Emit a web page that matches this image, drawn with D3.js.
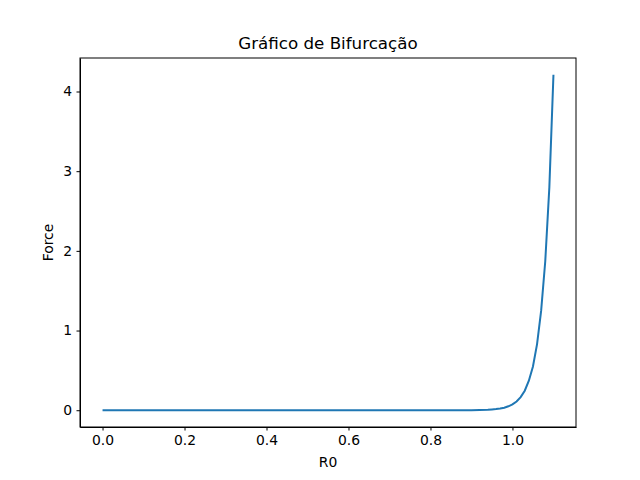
<!DOCTYPE html>
<meta charset="utf-8">
<style>
body { margin: 0; background: #fff; }
text { font-family: "DejaVu Sans", sans-serif; }
.axis text { font-size: 13.9px; fill: #000; }
.axis path, .axis line { stroke: #000; stroke-width: 1; }
</style>
<svg width="640" height="480"></svg>
<script src="https://d3js.org/d3.v7.min.js"></script>
<script>
var r0 = [0, 0.85, 0.9, 0.92, 0.94, 0.95, 0.96, 0.97, 0.98, 0.99, 1.0,
  1.01, 1.02, 1.03, 1.04, 1.05, 1.06, 1.07, 1.08, 1.09, 1.1];
var force = [0, 0, 0.001, 0.003, 0.006, 0.01, 0.014, 0.022, 0.032, 0.049, 0.073,
  0.11, 0.165, 0.245, 0.37, 0.55, 0.83, 1.25, 1.87, 2.8, 4.21];
var xTicks = [0, 0.2, 0.4, 0.6, 0.8, 1.0];
var yTicks = [0, 1, 2, 3, 4];

var svg = d3.select("svg"),
  margin = {top: 58, right: 64, bottom: 53, left: 80},
  width = 640 - margin.left - margin.right,
  height = 480 - margin.top - margin.bottom;

var x = d3.scaleLinear().domain([-0.055, 1.155]).range([0, width]);
var y = d3.scaleLinear().domain([-0.2105, 4.4205]).range([height, 0]);

var g = svg.append("g")
  .attr("transform", "translate(" + margin.left + "," + margin.top + ")");

g.append("g").attr("class", "axis")
  .attr("transform", "translate(0," + height + ")")
  .call(d3.axisBottom(x).tickValues(xTicks).tickFormat(d3.format(".1f"))
    .tickSizeInner(3.5).tickSizeOuter(0).tickPadding(4.5));

g.append("g").attr("class", "axis")
  .call(d3.axisLeft(y).tickValues(yTicks).tickFormat(d3.format("d"))
    .tickSizeInner(3.5).tickSizeOuter(0).tickPadding(4.5));

g.append("rect").attr("width", width).attr("height", height)
  .attr("fill", "none").attr("stroke", "#000");

var pts = r0.map(function(d, i) { return [d, force[i]]; });
g.append("path")
  .datum(pts)
  .attr("fill", "none")
  .attr("stroke", "#1f77b4")
  .attr("stroke-width", 2)
  .attr("d", d3.line().x(function(d) { return x(d[0]); }).y(function(d) { return y(d[1]); }));

svg.append("text").attr("x", margin.left + width / 2).attr("y", 49)
  .attr("text-anchor", "middle").style("font-size", "16.7px").text("Gráfico de Bifurcação");
svg.append("text").attr("x", margin.left + width / 2).attr("y", 467)
  .attr("text-anchor", "middle").style("font-size", "13.9px").text("R0");
svg.append("text").attr("transform", "translate(53," + (margin.top + height / 2) + ") rotate(-90)")
  .attr("text-anchor", "middle").style("font-size", "13.9px").text("Force");
</script>
